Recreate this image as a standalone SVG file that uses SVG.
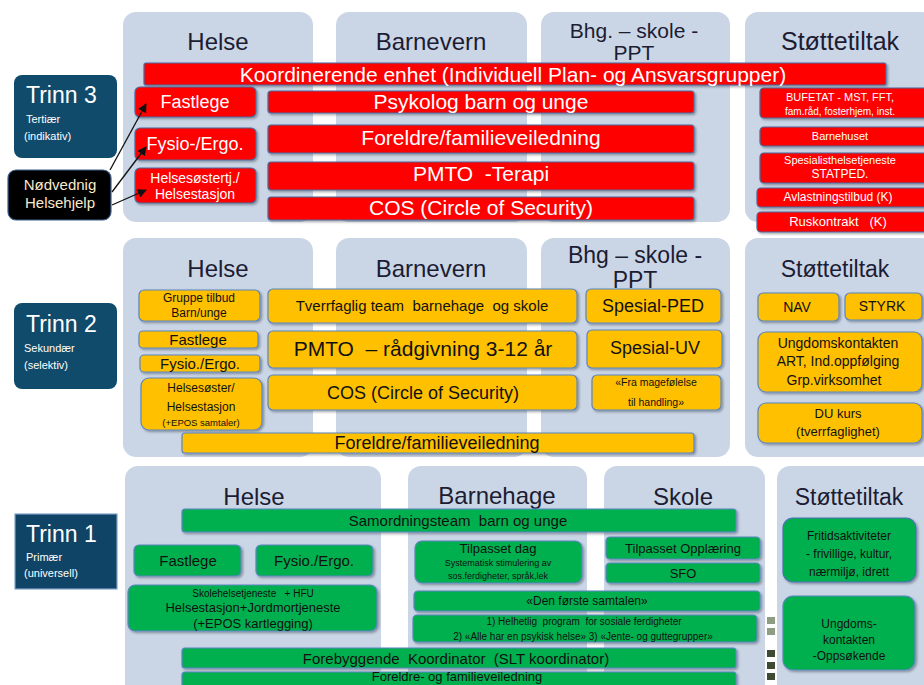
<svg xmlns="http://www.w3.org/2000/svg" width="924" height="685" viewBox="0 0 924 685">
<defs>
<filter id="sh" x="-10%" y="-20%" width="125%" height="150%">
<feDropShadow dx="1.5" dy="1.5" stdDeviation="1" flood-color="#000" flood-opacity="0.35"/>
</filter>
<marker id="ah" viewBox="0 0 10 10" refX="9" refY="5" markerWidth="7" markerHeight="7" orient="auto-start-reverse">
<path d="M0,0 L10,5 L0,10 z" fill="#111"/>
</marker>
<style>
text{font-family:"Liberation Sans",Arial,sans-serif;text-anchor:middle}
.panel{fill:#cad6e6}
.hd{font-size:24px;fill:#1c1c33}
.red{fill:#ff0000;stroke:#4a6aa0;stroke-width:1.2;filter:url(#sh)}
.yel{fill:#ffc000;stroke:#5b85c0;stroke-width:1.2;filter:url(#sh)}
.grn{fill:#00b050;stroke:#5b85c0;stroke-width:1.2;filter:url(#sh)}
.trinn{fill:#114b6b}
.w{fill:#ffffff}
.d{fill:#111111}
.tl{fill:#ffffff;text-anchor:start}
.conn{stroke:#111;stroke-width:1.3;fill:none;marker-end:url(#ah)}
</style>
</defs>
<rect width="924" height="685" fill="#ffffff"/>

<!-- Trinn 3 panels -->
<g id="t3-panels">
<rect class="panel" x="123" y="12" width="190" height="210" rx="13"/>
<rect class="panel" x="336" y="12" width="191" height="210" rx="13"/>
<rect class="panel" x="541" y="12" width="189" height="210" rx="13"/>
<rect class="panel" x="745" y="12" width="190" height="210" rx="13"/>
<text class="hd" x="218" y="50">Helse</text>
<text class="hd" x="431" y="50">Barnevern</text>
<text class="hd" x="634" y="38" style="font-size:21px">Bhg. – skole -</text>
<text class="hd" x="634" y="60" style="font-size:21px">PPT</text>
<text class="hd" x="840" y="50" style="font-size:25px">Støttetiltak</text>
</g>

<!-- Trinn 2 panels -->
<g id="t2-panels">
<rect class="panel" x="123" y="238" width="190" height="219" rx="13"/>
<rect class="panel" x="336" y="238" width="191" height="219" rx="13"/>
<rect class="panel" x="541" y="238" width="189" height="219" rx="13"/>
<rect class="panel" x="745" y="238" width="190" height="219" rx="13"/>
<text class="hd" x="218" y="277">Helse</text>
<text class="hd" x="431" y="277">Barnevern</text>
<text class="hd" x="635" y="263" style="font-size:23px">Bhg – skole -</text>
<text class="hd" x="635" y="288" style="font-size:23px">PPT</text>
<text class="hd" x="835" y="277" style="font-size:23px">Støttetiltak</text>
</g>

<!-- Trinn 1 panels -->
<g id="t1-panels">
<rect class="panel" x="125" y="466" width="256" height="240" rx="13"/>
<rect class="panel" x="408" y="466" width="179" height="240" rx="13"/>
<rect class="panel" x="604" y="466" width="161" height="240" rx="13"/>
<rect class="panel" x="777" y="466" width="160" height="240" rx="13"/>
<text class="hd" x="254" y="505">Helse</text>
<text class="hd" x="497" y="504">Barnehage</text>
<text class="hd" x="683" y="505">Skole</text>
<text class="hd" x="849" y="505" style="font-size:23px">Støttetiltak</text>
</g>

<!-- Trinn labels -->
<g id="trinn3">
<rect class="trinn" x="14" y="75" width="103" height="83" rx="8"/>
<text class="tl" x="26" y="103" style="font-size:23px">Trinn 3</text>
<text class="tl" x="26" y="123" style="font-size:11px">Tertiær</text>
<text class="tl" x="24" y="140" style="font-size:11px">(indikativ)</text>
</g>
<g id="nodvendig">
<rect x="8" y="170" width="103" height="50" rx="8" fill="#000" stroke="#3d5f8f" stroke-width="1.2"/>
<text x="60" y="190" style="font-size:15px;fill:#fbe9cc">Nødvednig</text>
<text x="60" y="208" style="font-size:15px;fill:#fbe9cc">Helsehjelp</text>
</g>
<g id="trinn2">
<rect class="trinn" x="14" y="303" width="103" height="86" rx="8"/>
<text class="tl" x="26" y="332" style="font-size:23px">Trinn 2</text>
<text class="tl" x="24" y="352" style="font-size:11px">Sekundær</text>
<text class="tl" x="24" y="369" style="font-size:11px">(selektiv)</text>
</g>
<g id="trinn1">
<rect x="15" y="514" width="102" height="75" fill="#0f4466" stroke="#7fa2c8" stroke-width="1.2"/>
<text class="tl" x="26" y="542" style="font-size:23px">Trinn 1</text>
<text class="tl" x="26" y="561" style="font-size:11px">Primær</text>
<text class="tl" x="24" y="577" style="font-size:11px">(universell)</text>
</g>

<!-- Trinn 3 boxes -->
<g id="koordinerende">
<rect class="red" x="144" y="63" width="742" height="22" rx="2"/>
<text class="w" x="513" y="82" style="font-size:21px">Koordinerende enhet (Individuell Plan-  og Ansvarsgrupper)</text>
</g>
<g id="t3-fastlege">
<rect class="red" x="135" y="87" width="121" height="30" rx="5"/>
<text class="w" x="195" y="108" style="font-size:18px">Fastlege</text>
</g>
<g id="t3-fysio">
<rect class="red" x="135" y="128" width="121" height="32" rx="5"/>
<text class="w" x="195" y="150" style="font-size:18px">Fysio-/Ergo.</text>
</g>
<g id="t3-helsesoster">
<rect class="red" x="135" y="168" width="121" height="35" rx="5"/>
<text class="w" x="195" y="183" style="font-size:14px">Helsesøstertj./</text>
<text class="w" x="195" y="199" style="font-size:14px">Helsestasjon</text>
</g>
<g id="t3-psykolog">
<rect class="red" x="268" y="91" width="426" height="22" rx="3"/>
<text class="w" x="481" y="109" style="font-size:21px">Psykolog barn og unge</text>
</g>
<g id="t3-foreldre">
<rect class="red" x="268" y="125" width="426" height="28" rx="3"/>
<text class="w" x="481" y="145" style="font-size:21px">Foreldre/familieveiledning</text>
</g>
<g id="t3-pmto">
<rect class="red" x="268" y="162" width="426" height="28" rx="3"/>
<text class="w" x="481" y="181" style="font-size:21px" xml:space="preserve">PMTO  -Terapi</text>
</g>
<g id="t3-cos">
<rect class="red" x="268" y="197" width="426" height="23" rx="3"/>
<text class="w" x="481" y="215" style="font-size:21px">COS (Circle of Security)</text>
</g>
<g id="t3-bufetat">
<rect class="red" x="760" y="88" width="175" height="30" rx="4"/>
<text class="w" x="840" y="101" style="font-size:11px">BUFETAT - MST, FFT,</text>
<text class="w" x="840" y="115" style="font-size:10px">fam.råd, fosterhjem, inst.</text>
</g>
<g id="t3-barnehuset">
<rect class="red" x="760" y="127" width="175" height="19" rx="4"/>
<text class="w" x="840" y="140" style="font-size:11px">Barnehuset</text>
</g>
<g id="t3-spesialist">
<rect class="red" x="760" y="153" width="175" height="30" rx="4"/>
<text class="w" x="840" y="164" style="font-size:11px">Spesialisthelsetjeneste</text>
<text class="w" x="840" y="178" style="font-size:12px">STATPED.</text>
</g>
<g id="t3-avlastning">
<rect class="red" x="757" y="188" width="178" height="19" rx="4"/>
<text class="w" x="838" y="201" style="font-size:12px">Avlastningstilbud (K)</text>
</g>
<g id="t3-rus">
<rect class="red" x="757" y="212" width="178" height="20" rx="4"/>
<text class="w" x="838" y="226" style="font-size:13px" xml:space="preserve">Ruskontrakt   (K)</text>
</g>

<!-- Trinn 2 boxes -->
<g id="t2-gruppe">
<rect class="yel" x="139" y="290" width="121" height="31" rx="5"/>
<text class="d" x="199" y="302" style="font-size:12px">Gruppe tilbud</text>
<text class="d" x="199" y="317" style="font-size:12px">Barn/unge</text>
</g>
<g id="t2-fastlege">
<rect class="yel" x="139" y="331" width="119" height="17" rx="4"/>
<text class="d" x="198" y="345" style="font-size:15px">Fastlege</text>
</g>
<g id="t2-fysio">
<rect class="yel" x="140" y="355" width="120" height="17" rx="4"/>
<text class="d" x="200" y="369" style="font-size:15px">Fysio./Ergo.</text>
</g>
<g id="t2-helsesoster">
<rect class="yel" x="141" y="378" width="121" height="52" rx="8"/>
<text class="d" x="201" y="392" style="font-size:12px">Helsesøster/</text>
<text class="d" x="201" y="411" style="font-size:12px">Helsestasjon</text>
<text class="d" x="201" y="426" style="font-size:9.5px">(+EPOS samtaler)</text>
</g>
<g id="t2-foreldre">
<rect class="yel" x="182" y="433" width="512" height="20" rx="3"/>
<text class="d" x="437" y="449" style="font-size:18px">Foreldre/familieveiledning</text>
</g>
<g id="t2-tverrfaglig">
<rect class="yel" x="268" y="289" width="309" height="34" rx="5"/>
<text class="d" x="422" y="311" style="font-size:15px" xml:space="preserve">Tverrfaglig team  barnehage  og skole</text>
</g>
<g id="t2-pmto">
<rect class="yel" x="268" y="331" width="309" height="37" rx="5"/>
<text class="d" x="423" y="356" style="font-size:21px" xml:space="preserve">PMTO  – rådgivning 3-12 år</text>
</g>
<g id="t2-cos">
<rect class="yel" x="268" y="375" width="309" height="35" rx="5"/>
<text class="d" x="423" y="399" style="font-size:18px">COS (Circle of Security)</text>
</g>
<g id="t2-spesialped">
<rect class="yel" x="586" y="289" width="135" height="34" rx="5"/>
<text class="d" x="653" y="312" style="font-size:18px">Spesial-PED</text>
</g>
<g id="t2-spesialuv">
<rect class="yel" x="587" y="330" width="135" height="38" rx="5"/>
<text class="d" x="655" y="354" style="font-size:18px">Spesial-UV</text>
</g>
<g id="t2-magefolelse">
<rect class="yel" x="592" y="375" width="129" height="35" rx="5"/>
<text class="d" x="656" y="386" style="font-size:10.5px">«Fra magefølelse</text>
<text class="d" x="656" y="406" style="font-size:10.5px">til handling»</text>
</g>
<g id="t2-nav">
<rect class="yel" x="758" y="293" width="81" height="28" rx="5"/>
<text class="d" x="797" y="312" style="font-size:14px">NAV</text>
</g>
<g id="t2-styrk">
<rect class="yel" x="845" y="293" width="77" height="27" rx="5"/>
<text class="d" x="882" y="311" style="font-size:14px">STYRK</text>
</g>
<g id="t2-ungdom">
<rect class="yel" x="758" y="332" width="164" height="60" rx="8"/>
<text class="d" x="838" y="348" style="font-size:14px">Ungdomskontakten</text>
<text class="d" x="838" y="366" style="font-size:14px">ART, Ind.oppfølging</text>
<text class="d" x="834" y="385" style="font-size:14px">Grp.virksomhet</text>
</g>
<g id="t2-dukurs">
<rect class="yel" x="758" y="403" width="164" height="40" rx="8"/>
<text class="d" x="838" y="418" style="font-size:13px">DU kurs</text>
<text class="d" x="838" y="436" style="font-size:13px">(tverrfaglighet)</text>
</g>

<!-- Trinn 1 boxes -->
<g id="t1-samordning">
<rect class="grn" x="182" y="509" width="554" height="23" rx="3"/>
<text class="d" x="458" y="526" style="font-size:15px" xml:space="preserve">Samordningsteam  barn og unge</text>
</g>
<g id="t1-fastlege">
<rect class="grn" x="134" y="545" width="107" height="31" rx="5"/>
<text class="d" x="188" y="566" style="font-size:15px">Fastlege</text>
</g>
<g id="t1-fysio">
<rect class="grn" x="256" y="545" width="117" height="31" rx="5"/>
<text class="d" x="314" y="566" style="font-size:15px">Fysio./Ergo.</text>
</g>
<g id="t1-skolehelse">
<rect class="grn" x="128" y="585" width="249" height="46" rx="7"/>
<text class="d" x="253" y="597" style="font-size:10px" xml:space="preserve">Skolehelsetjeneste   + HFU</text>
<text class="d" x="253" y="612" style="font-size:13px">Helsestasjon+Jordmortjeneste</text>
<text class="d" x="253" y="628" style="font-size:13px">(+EPOS kartlegging)</text>
</g>
<g id="t1-forebyggende">
<rect class="grn" x="182" y="648" width="554" height="20" rx="3"/>
<text class="d" x="456" y="664" style="font-size:15px" xml:space="preserve">Forebyggende  Koordinator  (SLT koordinator)</text>
</g>
<g id="t1-foreldre">
<rect class="grn" x="182" y="672" width="554" height="20" rx="3"/>
<text class="d" x="457" y="681" style="font-size:13px">Foreldre- og familieveiledning</text>
</g>
<g id="t1-tilpassetdag">
<rect class="grn" x="415" y="541" width="167" height="42" rx="7"/>
<text class="d" x="498" y="553" style="font-size:13px">Tilpasset dag</text>
<text class="d" x="498" y="566" style="font-size:9px">Systematisk stimulering av</text>
<text class="d" x="498" y="579" style="font-size:9px">sos.ferdigheter, språk,lek</text>
</g>
<g id="t1-opplaering">
<rect class="grn" x="606" y="537" width="154" height="22" rx="4"/>
<text class="d" x="683" y="553" style="font-size:13px">Tilpasset Opplæring</text>
</g>
<g id="t1-sfo">
<rect class="grn" x="606" y="563" width="154" height="20" rx="4"/>
<text class="d" x="683" y="578" style="font-size:13px">SFO</text>
</g>
<g id="t1-samtalen">
<rect class="grn" x="414" y="591" width="346" height="20" rx="4"/>
<text class="d" x="587" y="605" style="font-size:12px">«Den første samtalen»</text>
</g>
<g id="t1-program">
<rect class="grn" x="413" y="615" width="344" height="27" rx="4"/>
<text class="d" x="584" y="625" style="font-size:10px" xml:space="preserve">1) Helhetlig  program  for sosiale ferdigheter</text>
<text class="d" x="583" y="640" style="font-size:10px">2) «Alle har en psykisk helse» 3) «Jente- og guttegrupper»</text>
</g>
<g id="t1-fritid">
<rect class="grn" x="783" y="518" width="133" height="64" rx="10" style="stroke:#4f6fb8"/>
<text class="d" x="849" y="540" style="font-size:12px">Fritidsaktiviteter</text>
<text class="d" x="849" y="558" style="font-size:12px">- frivillige, kultur,</text>
<text class="d" x="849" y="576" style="font-size:12px">nærmiljø, idrett</text>
</g>
<g id="t1-ungdom">
<rect class="grn" x="783" y="596" width="132" height="74" rx="10"/>
<text class="d" x="849" y="628" style="font-size:12px">Ungdoms-</text>
<text class="d" x="849" y="644" style="font-size:12px">kontakten</text>
<text class="d" x="849" y="660" style="font-size:12px">-Oppsøkende</text>
</g>
<g id="squares">
<rect x="767" y="617" width="8" height="7" fill="#8f9c84"/>
<rect x="767" y="628" width="8" height="7" fill="#8f9c84"/>
<rect x="767" y="650" width="8" height="7" fill="#3f4a34"/>
<rect x="767" y="662" width="8" height="7" fill="#3f4a34"/>
<rect x="767" y="673" width="8" height="7" fill="#3f4a34"/>
</g>

<!-- Connectors -->
<g id="connectors">
<line class="conn" x1="110" y1="170" x2="146" y2="104"/>
<line class="conn" x1="112" y1="192" x2="146" y2="147"/>
<line class="conn" x1="112" y1="205" x2="146" y2="190"/>
</g>
</svg>
